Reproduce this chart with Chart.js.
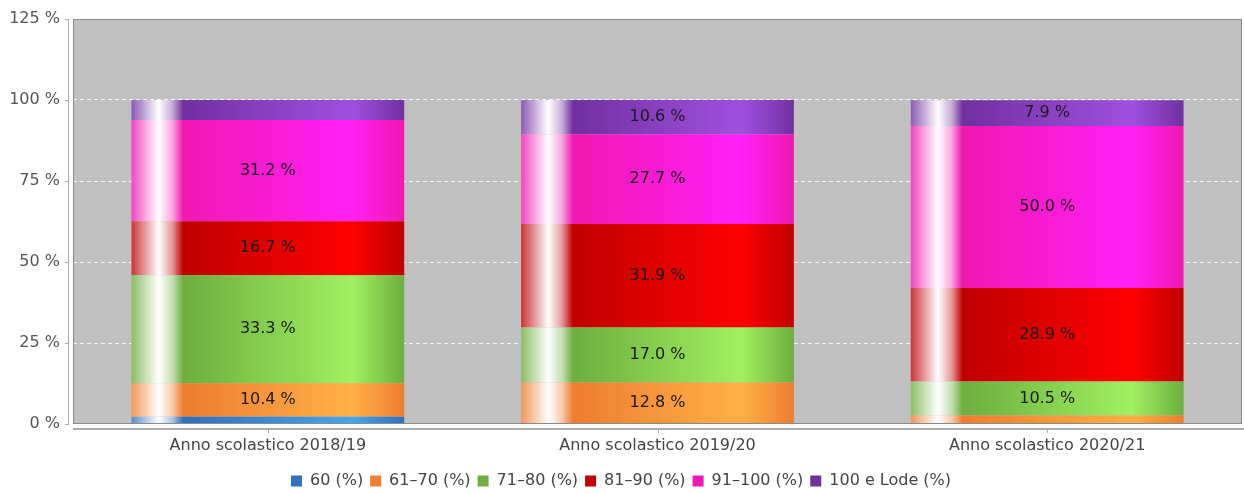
<!DOCTYPE html>
<html>
<head>
<meta charset="utf-8">
<script src="https://cdn.jsdelivr.net/npm/chart.js@4.4.1/dist/chart.umd.min.js"></script>
<style>
html,body{margin:0;padding:0;background:#fff;}
#wrap{width:1244px;height:493px;}
</style>
</head>
<body>
<div id="wrap"><canvas id="c" width="1244" height="493"></canvas></div>
<script>
const categories = ['Anno scolastico 2018/19', 'Anno scolastico 2019/20', 'Anno scolastico 2020/21'];
const seriesNames = ['60 (%)', '61–70 (%)', '71–80 (%)', '81–90 (%)', '91–100 (%)', '100 e Lode (%)'];
const v60 = [2.2, 0, 0];
const v61_70 = [10.4, 12.8, 2.6];
const v71_80 = [33.3, 17.0, 10.5];
const v81_90 = [16.7, 31.9, 28.9];
const v91_100 = [31.2, 27.7, 50.0];
const vLode = [6.2, 10.6, 7.9];
const yTicks = [0, 25, 50, 75, 100, 125];

const seriesValues = [v60, v61_70, v71_80, v81_90, v91_100, vLode];
// [legend/flat, dark, bright]
const palette = [
  ['#2f72c0', '#2e6fbf', '#42a6f2'],
  ['#f08030', '#ee7d2f', '#ffb048'],
  ['#70b040', '#6dae3f', '#a0f060'],
  ['#c00000', '#c00000', '#ff0000'],
  ['#f018b8', '#f018b0', '#ff20f8'],
  ['#7030a0', '#7030a0', '#a050e0']
];

function mix(hex, t) {
  const n = parseInt(hex.slice(1), 16);
  const r = (n >> 16) & 255, g = (n >> 8) & 255, b = n & 255;
  const m = c => Math.round(c + (255 - c) * t);
  return `rgb(${m(r)},${m(g)},${m(b)})`;
}

function makeBg(si) {
  return (ctx) => {
    const p = palette[si];
    if (ctx.type !== 'data') return p[0];
    const chart = ctx.chart;
    const xs = chart.scales && chart.scales.x;
    if (!xs || !xs.width) return p[0];
    const cw = xs.width / categories.length;
    const w = cw * 0.7;
    const cx = xs.getPixelForValue(ctx.dataIndex);
    const g = chart.ctx.createLinearGradient(cx - w / 2, 0, cx + w / 2, 0);
    g.addColorStop(0, mix(p[1], 0.2));
    g.addColorStop(0.05, mix(p[1], 0.6));
    g.addColorStop(0.1, '#ffffff');
    g.addColorStop(0.15, mix(p[1], 0.6));
    g.addColorStop(0.19, p[1]);
    g.addColorStop(0.81, p[2]);
    g.addColorStop(1, p[1]);
    return g;
  };
}

const datasets = seriesNames.map((name, i) => ({
  label: name,
  data: seriesValues[i],
  backgroundColor: makeBg(i),
  borderWidth: 0,
  barPercentage: 0.7,
  categoryPercentage: 1.0
}));

const plotDeco = {
  id: 'plotDeco',
  beforeDraw(chart) {
    const {ctx, chartArea: a} = chart;
    ctx.save();
    ctx.fillStyle = '#c0c0c0';
    ctx.fillRect(a.left, a.top, a.right - a.left, a.bottom - a.top);
    ctx.restore();
  },
  afterDraw(chart) {
    const {ctx, chartArea: a, scales} = chart;
    ctx.save();
    ctx.strokeStyle = '#8a8a8a';
    ctx.lineWidth = 1;
    ctx.strokeRect(a.left + 0.5, a.top + 0.5, a.right - a.left - 1, a.bottom - a.top - 1);
    // left axis line
    ctx.strokeStyle = '#aaaaaa';
    ctx.beginPath();
    ctx.moveTo(a.left - 4.5, a.top);
    ctx.lineTo(a.left - 4.5, a.bottom);
    yTicks.forEach(t => {
      const y = Math.round(scales.y.getPixelForValue(t)) + 0.5;
      ctx.moveTo(a.left - 8, y);
      ctx.lineTo(a.left - 4, y);
    });
    ctx.stroke();
    // bottom axis line
    ctx.beginPath();
    ctx.lineWidth = 2;
    ctx.moveTo(a.left, a.bottom + 5);
    ctx.lineTo(chart.width, a.bottom + 5);
    ctx.stroke();
    ctx.lineWidth = 1;
    ctx.beginPath();
    categories.forEach((c, i) => {
      const x = Math.round(scales.x.getPixelForValue(i)) + 0.5;
      ctx.moveTo(x, a.bottom + 5);
      ctx.lineTo(x, a.bottom + 9);
    });
    ctx.stroke();
    ctx.restore();
  },
  afterDatasetsDraw(chart) {
    const {ctx} = chart;
    ctx.save();
    ctx.font = '16px "DejaVu Sans"';
    ctx.fillStyle = '#1a1a1a';
    ctx.textAlign = 'center';
    ctx.textBaseline = 'middle';
    chart.data.datasets.forEach((ds, di) => {
      const meta = chart.getDatasetMeta(di);
      meta.data.forEach((el, i) => {
        const v = ds.data[i];
        if (v >= 7) {
          ctx.fillText(v.toFixed(1) + ' %', el.x, (el.y + el.base) / 2);
        }
      });
    });
    ctx.restore();
  }
};

new Chart(document.getElementById('c'), {
  type: 'bar',
  data: { labels: categories, datasets },
  plugins: [plotDeco],
  options: {
    responsive: false,
    devicePixelRatio: 1,
    animation: false,
    layout: { padding: { left: 0, right: 2, top: 19, bottom: -6 } },
    plugins: {
      legend: {
        position: 'bottom',
        labels: {
          boxWidth: 11, boxHeight: 11, padding: 7,
          color: '#444', font: { family: 'DejaVu Sans', size: 16 },
          generateLabels: chart => chart.data.datasets.map((ds, i) => ({
            text: ds.label,
            fillStyle: palette[i][0],
            strokeStyle: palette[i][0],
            lineWidth: 0,
            fontColor: '#444',
            hidden: false,
            datasetIndex: i
          }))
        }
      },
      tooltip: { enabled: false }
    },
    scales: {
      x: {
        stacked: true,
        grid: { display: false, drawTicks: false },
        border: { display: false },
        ticks: { color: '#444', font: { family: 'DejaVu Sans', size: 16 }, padding: 12, maxRotation: 0 },
        afterFit: s => { s.height = 42; s.paddingLeft = 0; s.paddingRight = 0; }
      },
      y: {
        stacked: true,
        min: 0, max: 125,
        afterBuildTicks: s => { s.ticks = yTicks.map(v => ({ value: v })); },
        grid: {
          drawTicks: false,
          color: c => (c.tick && c.tick.value > 0 && c.tick.value < 125) ? 'rgba(255,255,255,0.85)' : 'rgba(0,0,0,0)',
          lineWidth: 1
        },
        border: { display: false, dash: [4, 3] },
        ticks: {
          color: '#555', font: { family: 'DejaVu Sans', size: 16 }, padding: 13,
          callback: v => v + ' %'
        },
        afterFit: s => { s.width = 73; s.paddingTop = 0; s.paddingBottom = 0; }
      }
    }
  }
});
</script>
</body>
</html>
